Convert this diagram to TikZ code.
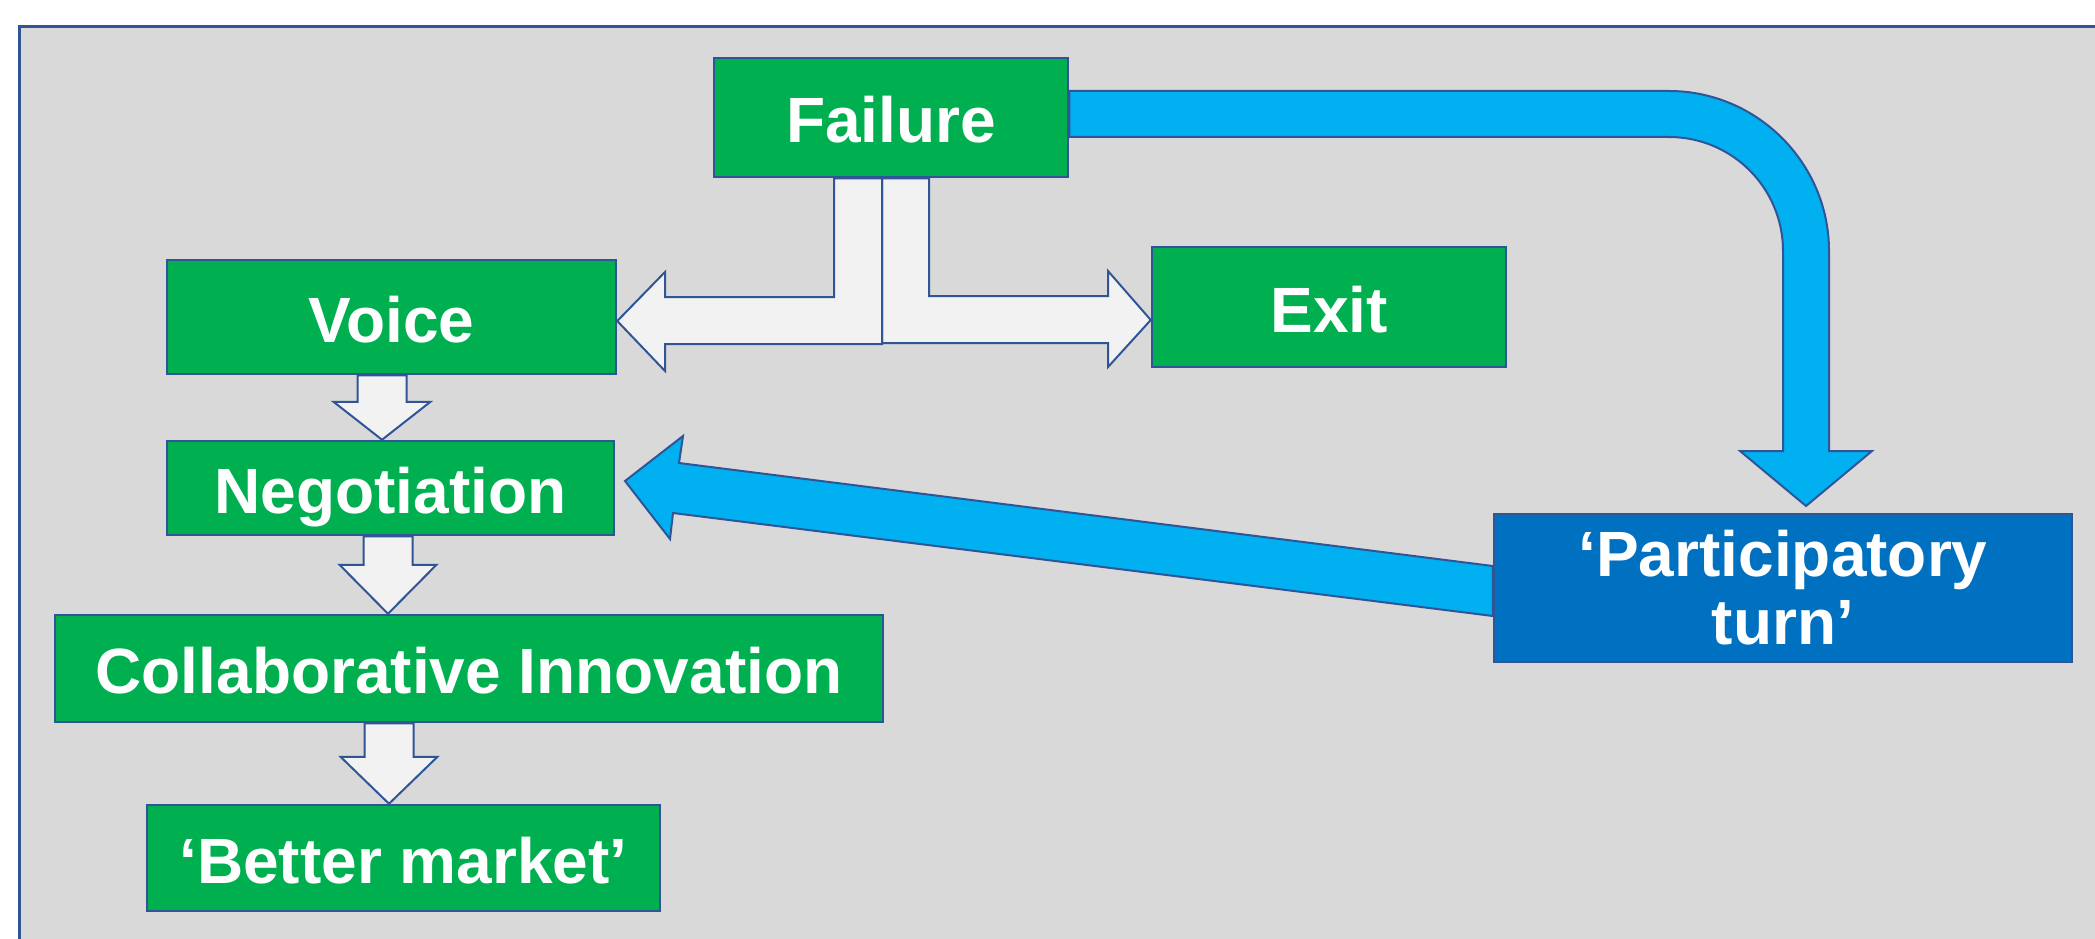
\documentclass[tikz,border=0pt]{standalone}
\usepackage{fontspec}
\setsansfont{Liberation Sans}

\definecolor{bggray}{HTML}{D9D9D9}
\definecolor{edgeblue}{HTML}{2F5597}
\definecolor{boxgreen}{HTML}{00B050}
\definecolor{boxblue}{HTML}{0070C0}
\definecolor{arrowcyan}{HTML}{00B0F0}
\definecolor{arrowwhite}{HTML}{F2F2F2}

\tikzset{
  box/.style={draw=edgeblue, line width=2.5pt, text=white, inner sep=0pt, align=center},
  greenbox/.style={box, fill=boxgreen, text height=50pt, text depth=0pt,
    font=\sffamily\bfseries\fontsize{64}{76}\selectfont},
  bluebox/.style={box, fill=boxblue, font=\sffamily\bfseries\fontsize{64}{68}\selectfont},
  whitearrow/.style={draw=edgeblue, line width=2pt, fill=arrowwhite},
  cyanarrow/.style={draw=edgeblue, line width=2pt, fill=arrowcyan},
}

\begin{document}
\begin{tikzpicture}[x=1pt, y=-1pt]
	\fill[white] (0,0) rectangle (2095,939);
	\useasboundingbox (0,0) rectangle (2095,939);
	\clip (0,0) rectangle (2095,939);
	\draw[draw=edgeblue, line width=3pt, fill=bggray] (19,27) rectangle (2130,980);
	
	% boxes
	\node[greenbox, minimum width=354pt, minimum height=119pt] (failure) at (891,117.5) {Failure};
	\node[greenbox, minimum width=449pt, minimum height=114pt] (voice) at (391.5,317) {Voice};
	\node[greenbox, minimum width=354pt, minimum height=120pt] (exit) at (1329,307) {Exit};
	\node[greenbox, minimum width=447pt, minimum height=94pt] (nego) at (390.5,488) {Negotiation};
	\node[greenbox, minimum width=828pt, minimum height=107pt] (collab) at (469,668.5) {Collaborative Innovation};
	\node[greenbox, minimum width=513pt, minimum height=106pt] (better) at (403.5,858) {‘Better market’};
	\node[bluebox, minimum width=578pt, minimum height=148pt] (particip) at (1783,588) {‘Participatory\\turn’};
	
	% failure -> participatory turn
	\draw[cyanarrow] (failure.east |- 0,91) -- (1669,91)
		.. controls (1757,91) and (1829,163) .. (1829,251) -- (1829,451) -- (1872,451)
		-- (1806,506) -- (1740,451) -- (1783,451) -- (1783,251)
		.. controls (1783,188) and (1732,137) .. (1669,137) -- (failure.east |- 0,137) -- cycle;
	
	% participatory turn -> negotiation
	\draw[cyanarrow] (particip.west |- 0,566) -- (679,463) -- (683,436) -- (625,481)
		-- (670,539) -- (673,513) -- (particip.west |- 0,616) -- cycle;
	
	% failure -> exit / voice
	\draw[whitearrow] (882,0 |- failure.south) -- (929,0 |- failure.south) -- (929,296) -- (1108,296)
		-- (1108,271) -- (exit.west |- 0,320) -- (1108,367) -- (1108,343) -- (882,343) -- cycle;
	\draw[whitearrow] (834,0 |- failure.south) -- (882,0 |- failure.south) -- (882,344) -- (665,344)
		-- (665,371) -- (voice.east |- 0,321) -- (665,272) -- (665,297) -- (834,297) -- cycle;
	
	% chain downwards
	\foreach \a/\b/\x/\h in {voice/nego/382/38, nego/collab/388/49, collab/better/389/47}{
		\path (\b.north) ++(0,-\h) coordinate (s);
		\draw[whitearrow] ({\x-24.5},0 |- \a.south) -- ({\x-24.5},0 |- s) -- ({\x-48.5},0 |- s)
			-- (\x,0 |- \b.north) -- ({\x+48.5},0 |- s) -- ({\x+24.5},0 |- s)
			-- ({\x+24.5},0 |- \a.south) -- cycle;
	}
\end{tikzpicture}
\end{document}
